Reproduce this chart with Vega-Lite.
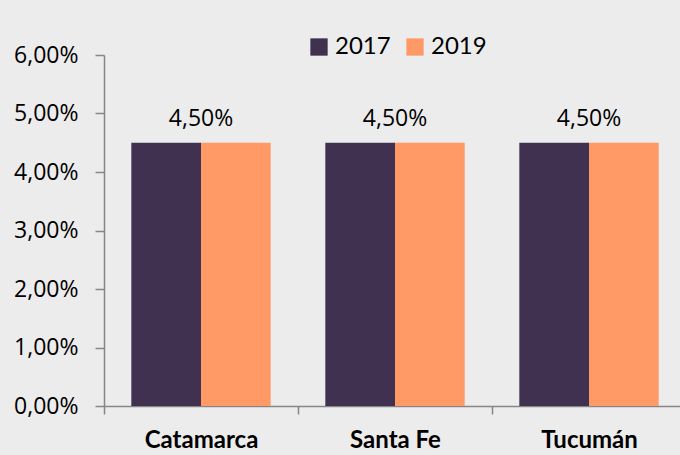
{
  "$schema": "https://vega.github.io/schema/vega-lite/v6.json",
  "width": 576,
  "height": 351,
  "autosize": {"type": "none"},
  "padding": {"left": 104, "top": 55, "right": 0, "bottom": 49},
  "background": "#ececec",
  "config": {
    "view": {"stroke": null},
    "locale": {"number": {"decimal": ",", "thousands": ".", "grouping": [3], "currency": ["$", ""]}}
  },
  "data": {
    "values": [
      {"provincia": "Catamarca", "anio": "2017", "valor": 0.045},
      {"provincia": "Catamarca", "anio": "2019", "valor": 0.045},
      {"provincia": "Santa Fe", "anio": "2017", "valor": 0.045},
      {"provincia": "Santa Fe", "anio": "2019", "valor": 0.045},
      {"provincia": "Tucumán", "anio": "2017", "valor": 0.045},
      {"provincia": "Tucumán", "anio": "2019", "valor": 0.045}
    ]
  },
  "encoding": {
    "x": {
      "field": "provincia",
      "type": "nominal",
      "sort": null,
      "scale": {"paddingInner": 0, "paddingOuter": 0, "range": [0, 582]},
      "axis": {
        "title": null,
        "labelAngle": 0,
        "labelFont": "Lato",
        "labelFontWeight": "bold",
        "labelFontSize": 24,
        "labelColor": "#000000",
        "labelPadding": 14,
        "tickBand": "extent",
        "tickSize": 8,
        "tickColor": "#868686",
        "tickWidth": 1.5,
        "domainColor": "#868686",
        "domainWidth": 1.5
      }
    },
    "y": {
      "field": "valor",
      "type": "quantitative",
      "scale": {"domain": [0, 0.06], "nice": false},
      "axis": {
        "title": null,
        "values": [0, 0.01, 0.02, 0.03, 0.04, 0.05, 0.06],
        "format": ".2%",
        "grid": false,
        "labelFont": "Open Sans",
        "labelFontSize": 23,
        "labelColor": "#000000",
        "labelPadding": 17,
        "tickSize": 9,
        "tickColor": "#868686",
        "tickWidth": 1.5,
        "domainColor": "#868686",
        "domainWidth": 1.5
      }
    }
  },
  "layer": [
    {
      "mark": {"type": "bar"},
      "encoding": {
        "xOffset": {"field": "anio", "type": "nominal", "scale": {"paddingInner": 0, "paddingOuter": 0.392}},
        "color": {
          "field": "anio",
          "type": "nominal",
          "scale": {"domain": ["2017", "2019"], "range": ["#403151", "#ff9966"]},
          "legend": {
            "title": null,
            "orient": "none",
            "direction": "horizontal",
            "legendX": 203,
            "legendY": -20,
            "symbolType": "square",
            "symbolSize": 300,
            "symbolStrokeWidth": 0,
            "labelFont": "Lato",
            "labelFontSize": 24,
            "labelColor": "#000000",
            "labelOffset": 4,
            "columnPadding": 12,
            "padding": 0
          }
        }
      }
    },
    {
      "transform": [{"filter": "datum.anio == '2017'"}],
      "mark": {"type": "text", "baseline": "alphabetic", "dy": -17, "font": "Open Sans", "fontSize": 23, "color": "#000000"},
      "encoding": {
        "text": {"field": "valor", "type": "quantitative", "format": ".2%"}
      }
    }
  ]
}
